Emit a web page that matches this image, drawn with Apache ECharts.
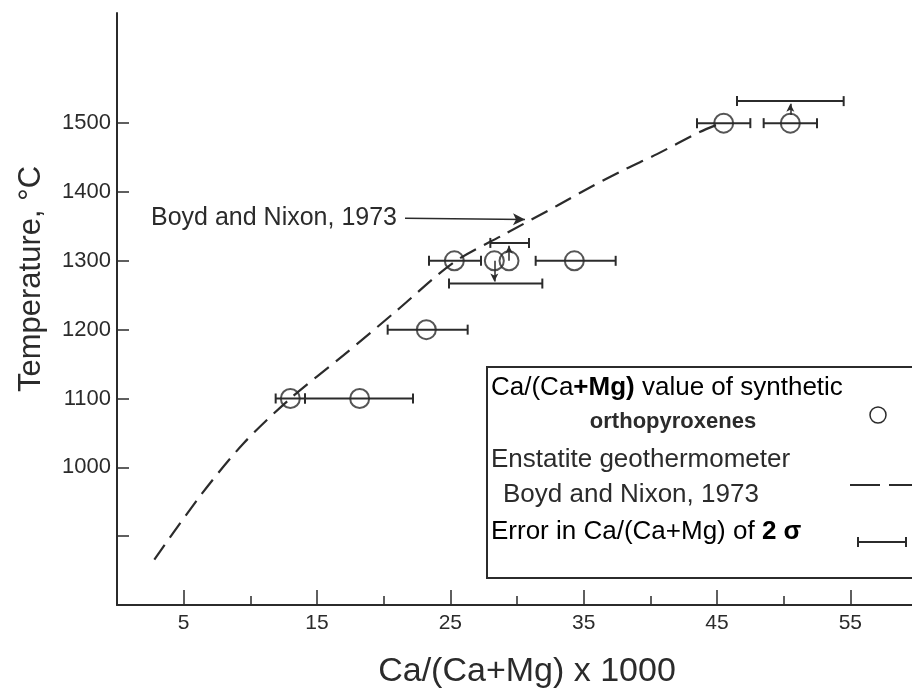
<!DOCTYPE html>
<html>
<head>
<meta charset="utf-8">
<script src="https://cdn.jsdelivr.net/npm/echarts@6/dist/echarts.min.js"></script>
<style>
  html, body { margin: 0; padding: 0; background: #fff; }
  #main { width: 912px; height: 688px; }
</style>
</head>
<body>
<div id="main"></div>
<script>
// synthetic orthopyroxenes: Ca/(Ca+Mg) x 1000 vs temperature
var ptX = [13.0, 18.2, 23.2, 25.3, 28.3, 29.4, 34.3, 45.5, 50.5];
var ptY = [1100, 1100, 1200, 1300, 1300, 1300, 1300, 1500, 1500];

// 2 sigma error bars: [y, low, high]
var errY    = [1100, 1100, 1200, 1300, 1267, 1326, 1300, 1500, 1500, 1532];
var errLow  = [11.9, 14.1, 20.3, 23.4, 24.9, 28.0, 31.4, 43.5, 48.5, 46.5];
var errHigh = [14.1, 22.2, 26.3, 27.3, 31.9, 30.9, 37.4, 47.5, 52.5, 54.5];

// little arrows pointing from circle to its displaced error bar
var arrowX    = [28.3, 29.4, 50.5];
var arrowFrom = [1300, 1300, 1512];
var arrowTo   = [1270, 1322, 1528];

// Boyd and Nixon (1973) enstatite geothermometer
var curveX = [2.8, 6.3, 9.5, 13, 17, 21, 25.2, 29, 33, 35.5, 38, 40.5, 43.7, 45.3];
var curveY = [866, 960, 1035, 1100, 1163, 1228, 1297, 1338, 1380, 1407, 1432, 1455, 1487, 1500];

var xLabels = [5, 15, 25, 35, 45, 55];
var xMinor = [10, 20, 30, 40, 50];
var yLabels = [1000, 1100, 1200, 1300, 1400, 1500];
var yTicks = [900, 1000, 1100, 1200, 1300, 1400, 1500];

var INK = '#2b2b2b';
var FONT = 'Liberation Sans';

var chart = echarts.init(document.getElementById('main'), null, { renderer: 'canvas' });

function renderErr(params, api) {
  var y = api.value(0);
  var a = api.coord([api.value(1), y]);
  var b = api.coord([api.value(2), y]);
  var h = 5;
  var st = { stroke: INK, lineWidth: 2 };
  return {
    type: 'group',
    children: [
      { type: 'line', shape: { x1: a[0], y1: a[1], x2: b[0], y2: b[1] }, style: st },
      { type: 'line', shape: { x1: a[0], y1: a[1] - h, x2: a[0], y2: a[1] + h }, style: st },
      { type: 'line', shape: { x1: b[0], y1: b[1] - h, x2: b[0], y2: b[1] + h }, style: st }
    ]
  };
}

function legendText(x, y, text, extra) {
  var style = { text: text, font: '26px ' + FONT, fill: INK, verticalAlign: 'middle' };
  for (var k in extra) style[k] = extra[k];
  return { type: 'text', x: x, y: y, z: 11, style: style };
}

var richFont = {
  n: { fontSize: 26, fontFamily: FONT, color: INK },
  b: { fontSize: 26, fontFamily: FONT, fontWeight: 'bold', color: INK }
};

var option = {
  backgroundColor: '#fff',
  animation: false,
  textStyle: { fontFamily: FONT, color: INK },
  grid: { left: 117, right: -5, top: 13, bottom: 83, outerBoundsMode: 'none', containLabel: false },
  xAxis: [{
    type: 'value',
    min: 0,
    max: 60,
    name: 'Ca/(Ca+Mg) x 1000',
    nameLocation: 'middle',
    nameGap: 50,
    nameTextStyle: { fontSize: 34, color: INK, fontFamily: FONT, padding: [0, 0, 0, 20] },
    splitLine: { show: false },
    axisLine: { lineStyle: { color: INK, width: 2 } },
    axisTick: { inside: true, length: 15, customValues: xLabels, lineStyle: { color: INK, width: 1.5 } },
    axisLabel: { customValues: xLabels, fontSize: 21, color: INK, margin: 8 }
  }, {
    type: 'value',
    min: 0,
    max: 60,
    position: 'bottom',
    splitLine: { show: false },
    axisLine: { show: false },
    axisTick: { inside: true, length: 9, customValues: xMinor, lineStyle: { color: INK, width: 1.5 } },
    axisLabel: { show: false }
  }],
  yAxis: {
    type: 'value',
    min: 800,
    max: 1660,
    name: 'Temperature, °C',
    nameLocation: 'middle',
    nameRotate: 90,
    nameGap: 70,
    nameTextStyle: { fontSize: 31, color: INK, fontFamily: FONT, padding: [0, 0, 0, 60] },
    splitLine: { show: false },
    axisLine: { show: true, lineStyle: { color: INK, width: 2 } },
    axisTick: { show: true, inside: true, length: 12, customValues: yTicks, lineStyle: { color: INK, width: 1.5 } },
    axisLabel: {
      customValues: yLabels,
      fontSize: 22,
      color: INK,
      margin: 6,
      formatter: function (v) { return String(v); }
    }
  },
  series: [{
    type: 'line',
    data: curveX.map(function (x, i) { return [x, curveY[i]]; }),
    smooth: 0.3,
    symbol: 'none',
    lineStyle: { color: INK, width: 2.2, type: [18, 9] },
    markLine: {
      silent: true,
      symbol: ['none', 'arrow'],
      symbolSize: [9, 12],
      lineStyle: { color: INK, width: 1.5, type: 'solid' },
      label: {
        show: true,
        position: 'start',
        distance: 8,
        formatter: 'Boyd and Nixon, 1973',
        fontSize: 25,
        color: INK,
        fontFamily: FONT
      },
      data: [[{ coord: [21.6, 1362] }, { coord: [30.6, 1360] }]]
    }
  }, {
    type: 'custom',
    renderItem: renderErr,
    data: errY.map(function (y, i) { return [y, errLow[i], errHigh[i]]; }),
    encode: { x: [1, 2], y: 0 },
    z: 3
  }, {
    type: 'scatter',
    data: ptX.map(function (x, i) { return [x, ptY[i]]; }),
    symbol: 'circle',
    symbolSize: 19,
    itemStyle: { color: 'rgba(255,255,255,0)', borderColor: INK, borderWidth: 2 },
    z: 4,
    markLine: {
      silent: true,
      symbol: ['none', 'arrow'],
      symbolSize: [6, 8],
      label: { show: false },
      lineStyle: { color: INK, width: 1.5, type: 'solid' },
      data: arrowX.map(function (x, i) {
        return [{ coord: [x, arrowFrom[i]] }, { coord: [x, arrowTo[i]] }];
      })
    }
  }],
  graphic: [
    { type: 'rect', shape: { x: 487, y: 367, width: 440, height: 211 },
      style: { fill: '#fff', stroke: INK, lineWidth: 2 }, z: 10 },
    { type: 'text', x: 491, y: 388, z: 11,
      style: { text: '{n|Ca/(Ca}{b|+Mg)}{n| value of synthetic}', verticalAlign: 'middle', rich: richFont } },
    legendText(673, 422, 'orthopyroxenes', { font: 'bold 22px ' + FONT, align: 'center' }),
    legendText(491, 460, 'Enstatite geothermometer'),
    legendText(503, 495, 'Boyd and Nixon, 1973'),
    { type: 'text', x: 491, y: 532, z: 11,
      style: { text: '{n|Error in Ca/(Ca+Mg) of }{b|2 σ}', verticalAlign: 'middle', rich: richFont } },
    { type: 'circle', shape: { cx: 878, cy: 415, r: 8 }, z: 11,
      style: { fill: 'none', stroke: INK, lineWidth: 1.5 } },
    { type: 'line', shape: { x1: 850, y1: 485, x2: 880, y2: 485 }, z: 11, style: { stroke: INK, lineWidth: 2 } },
    { type: 'line', shape: { x1: 889, y1: 485, x2: 915, y2: 485 }, z: 11, style: { stroke: INK, lineWidth: 2 } },
    { type: 'line', shape: { x1: 858, y1: 542, x2: 906, y2: 542 }, z: 11, style: { stroke: INK, lineWidth: 2 } },
    { type: 'line', shape: { x1: 858, y1: 537, x2: 858, y2: 547 }, z: 11, style: { stroke: INK, lineWidth: 2 } },
    { type: 'line', shape: { x1: 906, y1: 537, x2: 906, y2: 547 }, z: 11, style: { stroke: INK, lineWidth: 2 } }
  ]
};

chart.setOption(option);
</script>
</body>
</html>
